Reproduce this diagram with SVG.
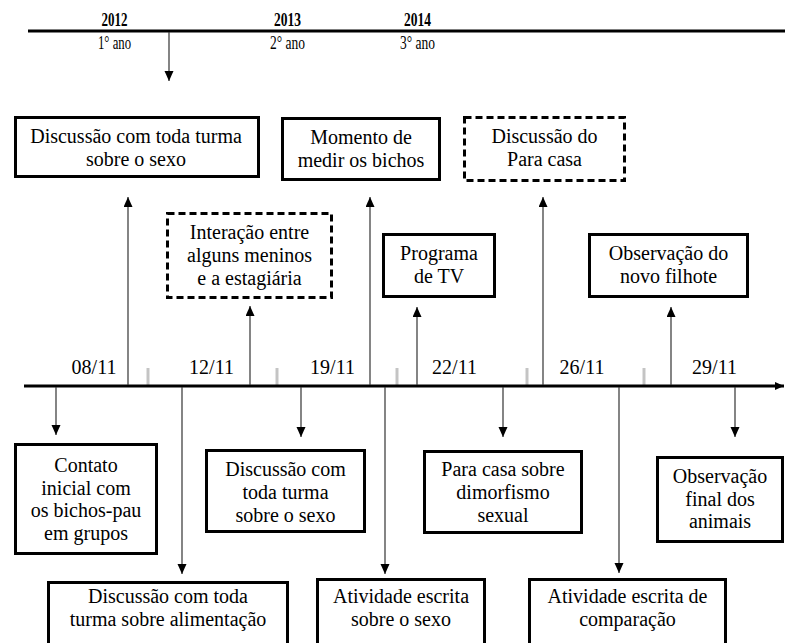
<svg xmlns="http://www.w3.org/2000/svg" width="785" height="643" viewBox="0 0 785 643">
<style>
text{font-family:"Liberation Serif","Times New Roman",serif;font-size:20px;fill:#000;text-anchor:middle}
.yr{font-weight:bold;font-size:18px}
.ano{font-size:18px}
.box{fill:#fff;stroke:#000;stroke-width:3}
.dash{fill:#fff;stroke:#000;stroke-width:3;stroke-dasharray:7 4}
.conn{stroke:#333;stroke-width:1.2;fill:none;marker-end:url(#ah)}
.axis{stroke:#000;stroke-width:3}
.tick{stroke:#c4c4c4;stroke-width:3}
</style>
<defs>
<marker id="ah" markerUnits="userSpaceOnUse" markerWidth="10" markerHeight="10" refX="10" refY="4.5" orient="auto">
<path d="M0,0 L10,4.5 L0,9 z" fill="#000"/>
</marker>
<marker id="ahaxis" markerUnits="userSpaceOnUse" markerWidth="10" markerHeight="10" refX="9" refY="4" orient="auto">
<path d="M0,0 L9,4 L0,8 z" fill="#000"/>
</marker>
</defs>
<rect width="785" height="643" fill="#fff"/>

<g id="top-timeline">
<line class="axis" x1="28" y1="31" x2="785" y2="31"/>
<text class="yr" x="114.5" y="26" textLength="26" lengthAdjust="spacingAndGlyphs">2012</text>
<text class="yr" x="287.5" y="26" textLength="27" lengthAdjust="spacingAndGlyphs">2013</text>
<text class="yr" x="417.5" y="26" textLength="27" lengthAdjust="spacingAndGlyphs">2014</text>
<text class="ano" x="114.5" y="49" textLength="33" lengthAdjust="spacingAndGlyphs">1° ano</text>
<text class="ano" x="287.5" y="49" textLength="35" lengthAdjust="spacingAndGlyphs">2° ano</text>
<text class="ano" x="417.5" y="49" textLength="35" lengthAdjust="spacingAndGlyphs">3° ano</text>
</g>

<g id="main-timeline">
<line class="tick" x1="148" y1="368" x2="148" y2="385"/>
<line class="tick" x1="277" y1="368" x2="277" y2="385"/>
<line class="tick" x1="397" y1="368" x2="397" y2="385"/>
<line class="tick" x1="527" y1="368" x2="527" y2="385"/>
<line class="tick" x1="644" y1="368" x2="644" y2="385"/>
<line class="axis" x1="24" y1="386" x2="784" y2="386" marker-end="url(#ahaxis)"/>
<text x="94" y="374">08/11</text>
<text x="211.5" y="374">12/11</text>
<text x="332.5" y="374">19/11</text>
<text x="454.5" y="374">22/11</text>
<text x="582" y="374">26/11</text>
<text x="714.5" y="374">29/11</text>
</g>

<g id="connectors">
<line class="conn" x1="169" y1="32" x2="169" y2="81"/>
<line class="conn" x1="128" y1="385" x2="128" y2="197"/>
<line class="conn" x1="250" y1="385" x2="250" y2="306"/>
<line class="conn" x1="370" y1="385" x2="370" y2="197"/>
<line class="conn" x1="417" y1="385" x2="417" y2="307"/>
<line class="conn" x1="543" y1="385" x2="543" y2="197"/>
<line class="conn" x1="671" y1="385" x2="671" y2="307"/>
<line class="conn" x1="56" y1="387" x2="56" y2="435"/>
<line class="conn" x1="182" y1="387" x2="182" y2="574"/>
<line class="conn" x1="301" y1="387" x2="301" y2="437"/>
<line class="conn" x1="385" y1="387" x2="385" y2="574"/>
<line class="conn" x1="503" y1="387" x2="503" y2="437"/>
<line class="conn" x1="619" y1="387" x2="619" y2="573"/>
<line class="conn" x1="735" y1="387" x2="735" y2="437"/>
</g>

<g id="n-discussao-sexo-top">
<rect class="box" x="15.5" y="117.5" width="243" height="59"/>
<text x="136" y="143">Discussão com toda turma</text>
<text x="136" y="166">sobre o sexo</text>
</g>
<g id="n-interacao">
<rect class="dash" x="167.5" y="213.5" width="164" height="84"/>
<text x="249.5" y="239">Interação entre</text>
<text x="249.5" y="262">alguns meninos</text>
<text x="249.5" y="285">e a estagiária</text>
</g>
<g id="n-momento">
<rect class="box" x="282.5" y="118.5" width="157" height="61"/>
<text x="361" y="144">Momento de</text>
<text x="361" y="167">medir os bichos</text>
</g>
<g id="n-programa">
<rect class="box" x="383.5" y="234.5" width="111" height="62"/>
<text x="439" y="260">Programa</text>
<text x="439" y="283">de TV</text>
</g>
<g id="n-discussao-paracasa">
<rect class="dash" x="464.5" y="117.5" width="160" height="63"/>
<text x="544.5" y="143">Discussão do</text>
<text x="544.5" y="166">Para casa</text>
</g>
<g id="n-filhote">
<rect class="box" x="589.5" y="234.5" width="158" height="62"/>
<text x="668.5" y="260">Observação do</text>
<text x="668.5" y="283">novo filhote</text>
</g>

<g id="n-contato">
<rect class="box" x="15.5" y="444.5" width="141" height="109"/>
<text x="86" y="472">Contato</text>
<text x="86" y="494.5">inicial com</text>
<text x="86" y="517">os bichos-pau</text>
<text x="86" y="539.5">em grupos</text>
</g>
<g id="n-alimentacao">
<rect class="box" x="48.5" y="582.5" width="239" height="70"/>
<text x="168" y="603">Discussão com toda</text>
<text x="168" y="626">turma sobre alimentação</text>
</g>
<g id="n-discussao-sexo-bottom">
<rect class="box" x="206.5" y="450.5" width="158" height="81"/>
<text x="285.5" y="476">Discussão com</text>
<text x="285.5" y="499">toda turma</text>
<text x="285.5" y="522">sobre o sexo</text>
</g>
<g id="n-atividade-sexo">
<rect class="box" x="317.5" y="579.5" width="167" height="73"/>
<text x="401" y="603">Atividade escrita</text>
<text x="401" y="626">sobre o sexo</text>
</g>
<g id="n-paracasa-dimorfismo">
<rect class="box" x="424.5" y="451.5" width="157" height="81"/>
<text x="503" y="476">Para casa sobre</text>
<text x="503" y="499">dimorfismo</text>
<text x="503" y="522">sexual</text>
</g>
<g id="n-atividade-comparacao">
<rect class="box" x="529.5" y="579.5" width="196" height="73"/>
<text x="627.5" y="603">Atividade escrita de</text>
<text x="627.5" y="626">comparação</text>
</g>
<g id="n-observacao-final">
<rect class="box" x="657.5" y="457.5" width="125" height="84"/>
<text x="720" y="483">Observação</text>
<text x="720" y="506">final dos</text>
<text x="720" y="528">animais</text>
</g>
</svg>
